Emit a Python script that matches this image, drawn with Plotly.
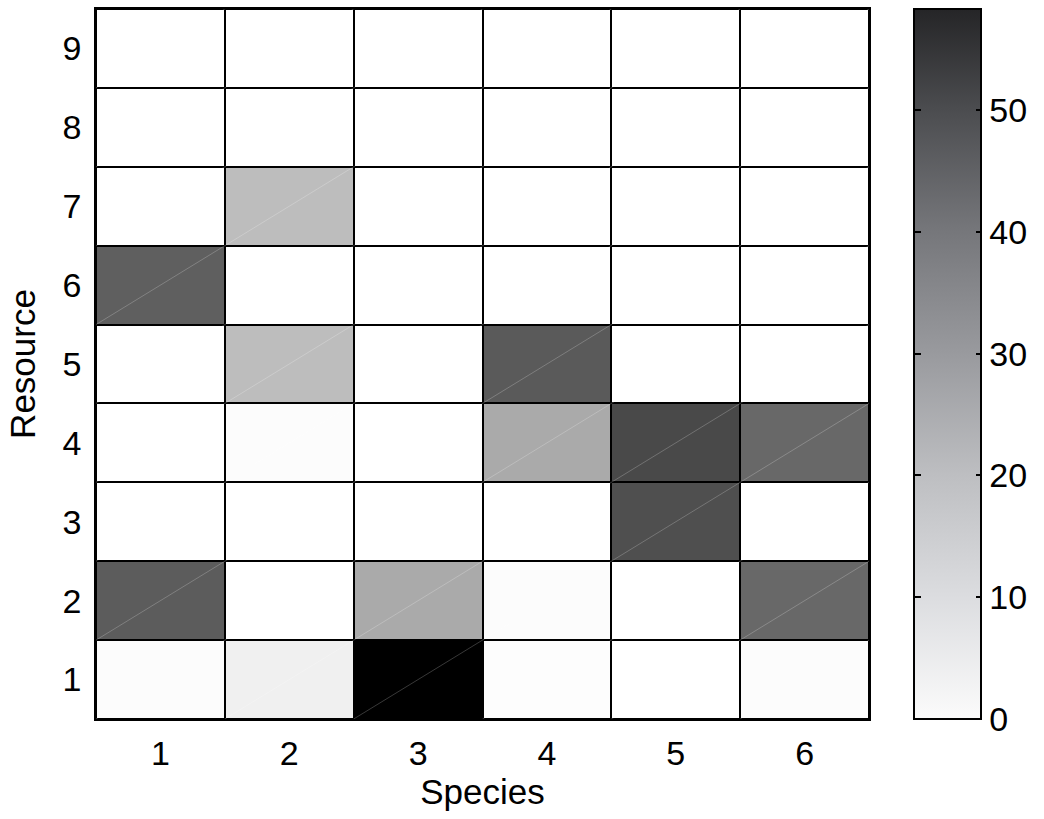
import plotly.graph_objects as go

species = [1, 2, 3, 4, 5, 6]
resources = [1, 2, 3, 4, 5, 6, 7, 8, 9]
# rows = resources 1..9, columns = species 1..6
r1 = [0.6, 3.5, 58.3, 0.4, 0.0, 0.6]
r2 = [37.3, 0.0, 19.5, 0.6, 0.0, 34.6]
r3 = [0.0, 0.0, 0.0, 0.0, 40.3, 0.0]
r4 = [0.0, 0.6, 0.0, 19.5, 41.5, 34.6]
r5 = [0.0, 15.1, 0.0, 37.8, 0.0, 0.0]
r6 = [36.6, 0.0, 0.0, 0.0, 0.0, 0.0]
r7 = [0.0, 15.0, 0.0, 0.0, 0.0, 0.0]
r8 = [0.0, 0.0, 0.0, 0.0, 0.0, 0.0]
r9 = [0.0, 0.0, 0.0, 0.0, 0.0, 0.0]
z = [r1, r2, r3, r4, r5, r6, r7, r8, r9]
cbar_ticks = [0, 10, 20, 30, 40, 50]
zmin, zmax = 0, 58.3

FONT = "Liberation Sans, Arial, sans-serif"
W, H = 1044, 819
L, R, T, B = 96, 175, 7, 100
pw = W - L - R

cell_scale = [[0, "#ffffff"], [1, "#000000"]]
bar_scale = [[0.0, "#fbfbfb"], [0.17, "#dcdde0"], [0.34, "#bebfc2"],
             [0.51, "#9a9b9f"], [0.69, "#75767a"], [0.86, "#4b4c4f"], [1.0, "#252527"]]
clear_scale = [[0, "rgba(0,0,0,0)"], [1, "rgba(0,0,0,0)"]]

fig = go.Figure()
fig.add_trace(go.Heatmap(
    x=species, y=resources, z=z, zmin=zmin, zmax=zmax,
    colorscale=cell_scale, showscale=False, xgap=2, ygap=2,
    hoverinfo="skip"))

# faint diagonal artifacts within each cell
dx, dy = [], []
for yi in resources:
    for xi in species:
        dx += [xi - 0.5, xi + 0.5, None]
        dy += [yi - 0.5, yi + 0.5, None]
fig.add_trace(go.Scatter(x=dx, y=dy, mode="lines",
                         line=dict(color="rgba(255,255,255,0.22)", width=1),
                         hoverinfo="skip", showlegend=False))

cbx = (914 - L) / pw
cbth = 67
fig.add_trace(go.Scatter(
    x=[species[0]], y=[resources[0]], mode="markers",
    marker=dict(color=[0], cmin=zmin, cmax=zmax, colorscale=bar_scale, size=0.1,
                opacity=0, showscale=True,
                colorbar=dict(x=cbx, xanchor="left", xpad=0, ypad=0,
                              y=0, yanchor="bottom", len=1, lenmode="fraction",
                              thickness=cbth, outlinewidth=2, outlinecolor="black",
                              tickvals=cbar_ticks, ticks="inside", ticklen=6,
                              tickwidth=1.5, tickcolor="black",
                              ticklabelposition="outside",
                              tickprefix=" ",
                              tickfont=dict(family=FONT, size=34, color="black"))),
    hoverinfo="skip", showlegend=False))

# second, transparent colorbar that supplies the inside ticks on the left edge
fig.add_trace(go.Scatter(
    x=[species[0]], y=[resources[0]], mode="markers",
    marker=dict(color=[0], cmin=zmin, cmax=zmax, colorscale=clear_scale, size=0.1,
                opacity=0, showscale=True,
                colorbar=dict(x=(913 - L) / pw, xanchor="left", xpad=0, ypad=0,
                              y=0, yanchor="bottom", len=1, lenmode="fraction",
                              thickness=1, outlinewidth=0,
                              tickvals=cbar_ticks[1:], ticks="outside", ticklen=7,
                              tickwidth=1.5, tickcolor="black",
                              showticklabels=False)),
    hoverinfo="skip", showlegend=False))

fig.update_layout(
    width=W, height=H, margin=dict(l=L, r=R, t=T, b=B),
    paper_bgcolor="white", plot_bgcolor="black",
    font=dict(family=FONT, size=34, color="black"),
    xaxis=dict(range=[0.5, 6.5], tickvals=species, ticks="", showgrid=False,
               zeroline=False, showline=True, linecolor="black", linewidth=1.5,
               mirror=True, ticklabelstandoff=3, tickfont=dict(size=34),
               title=dict(text="Species", standoff=2, font=dict(size=35))),
    yaxis=dict(range=[0.5, 9.5], tickvals=resources, ticks="", showgrid=False,
               zeroline=False, showline=True, linecolor="black", linewidth=1.5,
               mirror=True, ticklabelstandoff=6, tickfont=dict(size=34),
               title=dict(text="Resource", standoff=16, font=dict(size=35))),
)
fig.write_html("out.html")
